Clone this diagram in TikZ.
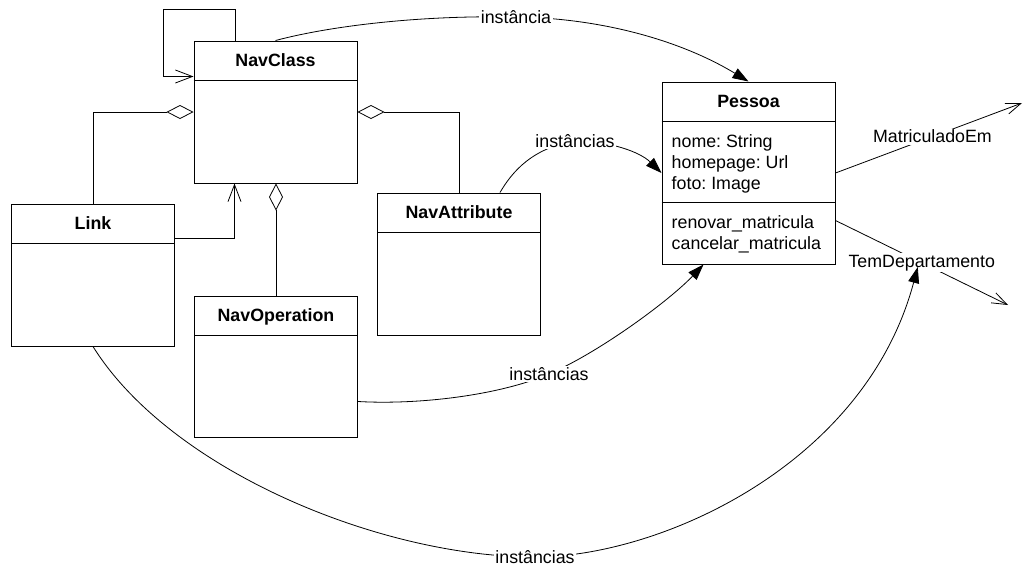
\documentclass[tikz,border=0pt]{standalone}
\usepackage{fontspec}
\setmainfont{Liberation Sans}
\usetikzlibrary{arrows.meta,calc}
\frenchspacing

\tikzset{
  txt/.style={font=\fontsize{17.8}{21}\selectfont},
  cls/.style={draw, line width=1pt, fill=white, inner sep=0pt,
              minimum width=163pt, minimum height=142pt},
  title/.style={txt, font=\fontsize{17.8}{21}\selectfont\bfseries, anchor=base, inner sep=0pt},
  member/.style={txt, anchor=base west, inner sep=0pt},
  lbl/.style={txt, fill=white, inner sep=1.5pt},
  conn/.style={line width=0.8pt},
  agg/.style={conn, -{Diamond[open, length=27pt, width=14pt]}},
  assoc/.style={conn, -{Straight Barb[length=17pt, width=13pt]}},
  nav/.style={conn, -{Straight Barb[length=15pt, width=11pt]}},
  inst/.style={conn, -{Triangle[length=16pt, width=11pt]}}
}

\begin{document}
\begin{tikzpicture}[x=1pt, y=-1pt]
  \useasboundingbox (0,0) rectangle (1023,566);

  % class boxes
  \node[cls] (NavClass) at (275.5,112) {};
  \node[cls] (Link) at (93,275) {};
  \node[cls, minimum height=141pt] (NavOperation) at (276,366.5) {};
  \node[cls] (NavAttribute) at (459,264) {};
  \node[cls, minimum width=173pt, minimum height=182pt] (Pessoa) at (748.5,173) {};

  % compartments and names
  \foreach \c in {NavClass, Link, NavOperation, NavAttribute, Pessoa}{
    \draw[line width=1pt] ($(\c.north west)+(0,40)$) -- ($(\c.north east)+(0,40)$);
  }
  \draw[line width=1pt] ($(Pessoa.north west)+(0,121)$) -- ($(Pessoa.north east)+(0,121)$);

  \node[title] (tNavClass) at ($(NavClass.north)+(0,26)$) {NavClass};
  \node[title] (tLink) at ($(Link.north)+(0,26)$) {Link};
  \node[title] (tNavOperation) at ($(NavOperation.north)+(0,26)$) {NavOperation};
  \node[title] (tNavAttribute) at ($(NavAttribute.north)+(0,26)$) {NavAttribute};
  \node[title] (tPessoa) at ($(Pessoa.north)+(0,26)$) {Pessoa};

  \node[member] (aNome) at ($(Pessoa.north west)+(10,66)$) {nome: String};
  \node[member] (aHome) at ($(Pessoa.north west)+(10,87)$) {homepage: Url};
  \node[member] (aFoto) at ($(Pessoa.north west)+(10,108)$) {foto: Image};
  \node[member] (oRenovar) at ($(Pessoa.north west)+(10,147)$) {renovar\_matricula};
  \node[member] (oCancelar) at ($(Pessoa.north west)+(10,168)$) {cancelar\_matricula};

  % self association of NavClass
  \draw[assoc] ($(NavClass.north west)+(42,0)$) -- ++(0,-31)
               -| ($(NavClass.north west)+(-30,36)$) -- ($(NavClass.north west)+(0,36)$);

  % aggregations into NavClass
  \draw[agg] (Link.north) |- (NavClass.west);
  \draw[agg] (NavAttribute.north) |- (NavClass.east);
  \draw[agg] (NavOperation.north) -- (NavOperation.north |- NavClass.south);

  % Link refers to NavClass
  \draw[assoc] ($(Link.north east)+(0,35)$) -| ($(NavClass.south west)+(41,0)$);

  % navigation links leaving Pessoa
  \coordinate (mEnd) at (1022,103);
  \coordinate (tEnd) at (1008,305);
  \draw[nav] (Pessoa.east) -- node[lbl, pos=0.52] (Matric) {MatriculadoEm} (mEnd);
  \draw[nav] ($(Pessoa.south east)+(0,-44)$) -- node[lbl, pos=0.5] (TemDep) {TemDepartamento} (tEnd);

  % instance relations
  \draw[inst] (NavClass.north) .. controls (330,26) and (420,15) .. (516,17)
      node[lbl] (lInst) {instância}
      .. controls (600,18) and (680,40) .. (Pessoa.north);
  \draw[inst] ($(NavAttribute.north)+(41,0)$) .. controls (512,172) and (532,148) .. (575,141)
      node[lbl] (lAttr) {instâncias}
      .. controls (610,141) and (640,152) .. (Pessoa.west);
  \draw[inst] ($(NavOperation.east)+(0,35)$) .. controls (420,405) and (500,395) .. (549,374)
      node[lbl] (lOp) {instâncias}
      .. controls (600,352) and (670,300) .. ($(Pessoa.south west)+(42,0)$);
  \draw[inst] (Link.south) .. controls (170,470) and (380,557) .. (535,557)
      node[lbl] (lLink) {instâncias}
      .. controls (660,557) and (865,465) .. ($(TemDep.base)+(-4,0)$);
\end{tikzpicture}
\end{document}
